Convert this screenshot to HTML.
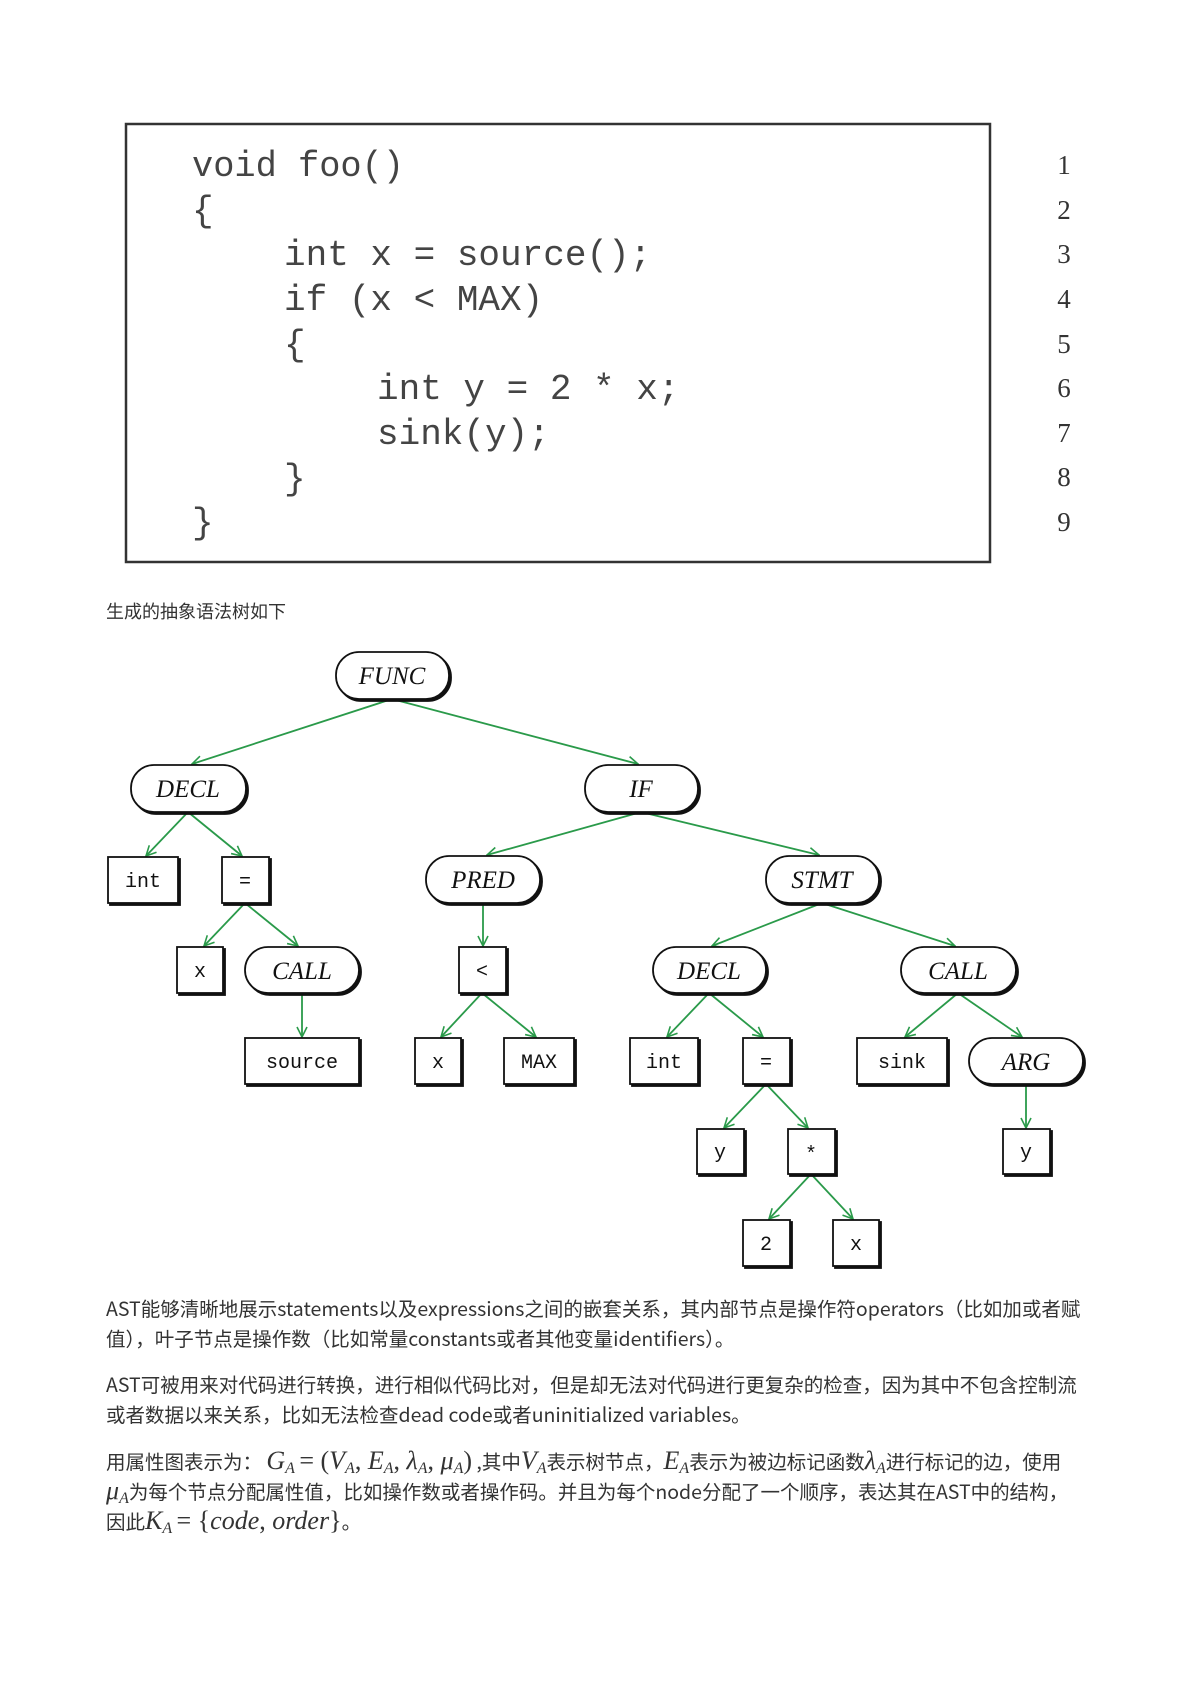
<!DOCTYPE html>
<html><head><meta charset="utf-8"><style>
body{margin:0;width:1200px;height:1697px;background:#fff;position:relative;overflow:hidden;font-family:"Noto Sans CJK SC","Liberation Sans",sans-serif;color:#333}
.p{position:absolute;left:106px;width:1060px;font-size:19.5px;line-height:30px;white-space:nowrap}
.m{font-family:"Liberation Serif",serif;font-style:italic;font-size:26px}
.r{font-family:"Liberation Serif",serif;font-style:normal;font-size:26px}
sub{font-size:16px;vertical-align:-4px;line-height:0}
</style></head><body>
<svg width="1200" height="1697" style="position:absolute;left:0;top:0">
<defs><marker id="a" viewBox="0 0 12 12" refX="11" refY="6" markerWidth="12" markerHeight="12" markerUnits="userSpaceOnUse" orient="auto"><path d="M1,1 L11,6 L1,11" fill="none" stroke="#2a9a4a" stroke-width="1.6"/></marker></defs>
<rect x="126" y="124" width="864" height="438" fill="none" stroke="#333" stroke-width="2.5"/>
<g font-family="Liberation Mono,monospace" font-size="36" fill="#444">
<text x="192" y="176" textLength="212" lengthAdjust="spacingAndGlyphs">void foo()</text>
<text x="192" y="221">{</text>
<text x="284" y="265">int x = source();</text>
<text x="284" y="310">if (x &lt; MAX)</text>
<text x="284" y="355">{</text>
<text x="377" y="399">int y = 2 * x;</text>
<text x="377" y="444">sink(y);</text>
<text x="284" y="489">}</text>
<text x="192" y="533">}</text>
</g>
<g font-family="Liberation Serif,serif" font-size="27" fill="#333" text-anchor="middle">
<text x="1064" y="174">1</text><text x="1064" y="219">2</text><text x="1064" y="263">3</text><text x="1064" y="308">4</text><text x="1064" y="353">5</text><text x="1064" y="397">6</text><text x="1064" y="442">7</text><text x="1064" y="486">8</text><text x="1064" y="531">9</text>
</g>
<text x="106" y="618" font-size="18" fill="#333" font-family="Noto Sans CJK SC,sans-serif">生成的抽象语法树如下</text>
<g transform="translate(-2,-6)">
<g stroke="#2a9a4a" stroke-width="1.8" marker-end="url(#a)">
<line x1="394" y1="705" x2="194" y2="770"/>
<line x1="394" y1="705" x2="640" y2="770"/>
<line x1="190" y1="818" x2="148" y2="862"/>
<line x1="190" y1="818" x2="244" y2="862"/>
<line x1="247" y1="909" x2="206" y2="952"/>
<line x1="247" y1="909" x2="300" y2="952"/>
<line x1="304" y1="999" x2="304" y2="1043"/>
<line x1="643" y1="818" x2="489" y2="861"/>
<line x1="643" y1="818" x2="821" y2="861"/>
<line x1="485" y1="909" x2="485" y2="952"/>
<line x1="484" y1="999" x2="443" y2="1043"/>
<line x1="484" y1="999" x2="538" y2="1043"/>
<line x1="824" y1="909" x2="714" y2="952"/>
<line x1="824" y1="909" x2="957" y2="952"/>
<line x1="711" y1="999" x2="669" y2="1043"/>
<line x1="711" y1="999" x2="765" y2="1043"/>
<line x1="768" y1="1090" x2="726" y2="1134"/>
<line x1="768" y1="1090" x2="810" y2="1134"/>
<line x1="813" y1="1180" x2="771" y2="1225"/>
<line x1="813" y1="1180" x2="855" y2="1225"/>
<line x1="960" y1="999" x2="907" y2="1043"/>
<line x1="960" y1="999" x2="1024" y2="1043"/>
<line x1="1028" y1="1090" x2="1028" y2="1134"/>
</g>
<g fill="#fff" stroke="#111" stroke-width="1.8">
<g>
<rect x="340" y="660" width="113" height="47" rx="23" fill="#111"/><rect x="338" y="658" width="113" height="47" rx="23"/>
<rect x="135" y="773" width="115" height="47" rx="23" fill="#111"/><rect x="133" y="771" width="115" height="47" rx="23"/>
<rect x="589" y="773" width="113" height="47" rx="23" fill="#111"/><rect x="587" y="771" width="113" height="47" rx="23"/>
<rect x="430" y="864" width="114" height="47" rx="23" fill="#111"/><rect x="428" y="862" width="114" height="47" rx="23"/>
<rect x="770" y="864" width="113" height="47" rx="23" fill="#111"/><rect x="768" y="862" width="113" height="47" rx="23"/>
<rect x="249" y="955" width="114" height="46" rx="23" fill="#111"/><rect x="247" y="953" width="114" height="46" rx="23"/>
<rect x="657" y="955" width="113" height="46" rx="23" fill="#111"/><rect x="655" y="953" width="113" height="46" rx="23"/>
<rect x="905" y="955" width="115" height="46" rx="23" fill="#111"/><rect x="903" y="953" width="115" height="46" rx="23"/>
<rect x="973" y="1046" width="114" height="46" rx="23" fill="#111"/><rect x="971" y="1044" width="114" height="46" rx="23"/>
</g>
<g>
<rect x="112" y="865" width="70" height="46" fill="#111"/><rect x="110" y="863" width="70" height="46"/>
<rect x="226" y="865" width="47" height="46" fill="#111"/><rect x="224" y="863" width="47" height="46"/>
<rect x="181" y="955" width="46" height="46" fill="#111"/><rect x="179" y="953" width="46" height="46"/>
<rect x="463" y="955" width="47" height="46" fill="#111"/><rect x="461" y="953" width="47" height="46"/>
<rect x="249" y="1046" width="114" height="46" fill="#111"/><rect x="247" y="1044" width="114" height="46"/>
<rect x="419" y="1046" width="46" height="46" fill="#111"/><rect x="417" y="1044" width="46" height="46"/>
<rect x="508" y="1046" width="70" height="46" fill="#111"/><rect x="506" y="1044" width="70" height="46"/>
<rect x="634" y="1046" width="68" height="46" fill="#111"/><rect x="632" y="1044" width="68" height="46"/>
<rect x="747" y="1046" width="47" height="46" fill="#111"/><rect x="745" y="1044" width="47" height="46"/>
<rect x="861" y="1046" width="90" height="46" fill="#111"/><rect x="859" y="1044" width="90" height="46"/>
<rect x="701" y="1137" width="47" height="45" fill="#111"/><rect x="699" y="1135" width="47" height="45"/>
<rect x="792" y="1137" width="47" height="45" fill="#111"/><rect x="790" y="1135" width="47" height="45"/>
<rect x="1007" y="1137" width="47" height="45" fill="#111"/><rect x="1005" y="1135" width="47" height="45"/>
<rect x="747" y="1228" width="47" height="46" fill="#111"/><rect x="745" y="1226" width="47" height="46"/>
<rect x="837" y="1228" width="46" height="46" fill="#111"/><rect x="835" y="1226" width="46" height="46"/>
</g>
</g>
<g font-family="Liberation Serif,serif" font-style="italic" font-size="25" fill="#111" text-anchor="middle">
<text x="394" y="690">FUNC</text><text x="190" y="803">DECL</text><text x="643" y="803">IF</text>
<text x="485" y="894">PRED</text><text x="824" y="894">STMT</text><text x="304" y="985">CALL</text>
<text x="711" y="985">DECL</text><text x="960" y="985">CALL</text><text x="1028" y="1076">ARG</text>
</g>
<g font-family="Liberation Mono,monospace" font-size="20" fill="#111" text-anchor="middle">
<text x="145" y="893">int</text><text x="247" y="893">=</text><text x="202" y="983">x</text><text x="484" y="983">&lt;</text>
<text x="304" y="1074">source</text><text x="440" y="1074">x</text><text x="541" y="1074">MAX</text><text x="666" y="1074">int</text>
<text x="768" y="1074">=</text><text x="904" y="1074">sink</text><text x="722" y="1164">y</text><text x="813" y="1166">*</text>
<text x="1028" y="1164">y</text><text x="768" y="1256">2</text><text x="858" y="1256">x</text>
</g>
</g>
</svg>
<div class="p" style="top:1293px">AST能够清晰地展示statements以及expressions之间的嵌套关系，其内部节点是操作符operators（比如加或者赋<br>值），叶子节点是操作数（比如常量constants或者其他变量identifiers）。</div>
<div class="p" style="top:1369px">AST可被用来对代码进行转换，进行相似代码比对，但是却无法对代码进行更复杂的检查，因为其中不包含控制流<br>或者数据以来关系，比如无法检查dead code或者uninitialized variables。</div>
<div class="p" style="top:1446px">用属性图表示为：&nbsp;<span class="m">G<sub>A</sub></span> <span class="r">= (</span><span class="m">V<sub>A</sub></span><span class="r">, </span><span class="m">E<sub>A</sub></span><span class="r">, </span><span class="m">λ<sub>A</sub></span><span class="r">, </span><span class="m">μ<sub>A</sub></span><span class="r">)</span> ,其中<span class="m">V<sub>A</sub></span>表示树节点，<span class="m">E<sub>A</sub></span>表示为被边标记函数<span class="m">λ<sub>A</sub></span>进行标记的边，使用<br><span class="m">μ<sub>A</sub></span>为每个节点分配属性值，比如操作数或者操作码。并且为每个node分配了一个顺序，表达其在AST中的结构，<br>因此<span class="m">K<sub>A</sub></span> <span class="r">= {</span><span class="m">code</span><span class="r">, </span><span class="m">order</span><span class="r">}</span>。</div>
</body></html>
